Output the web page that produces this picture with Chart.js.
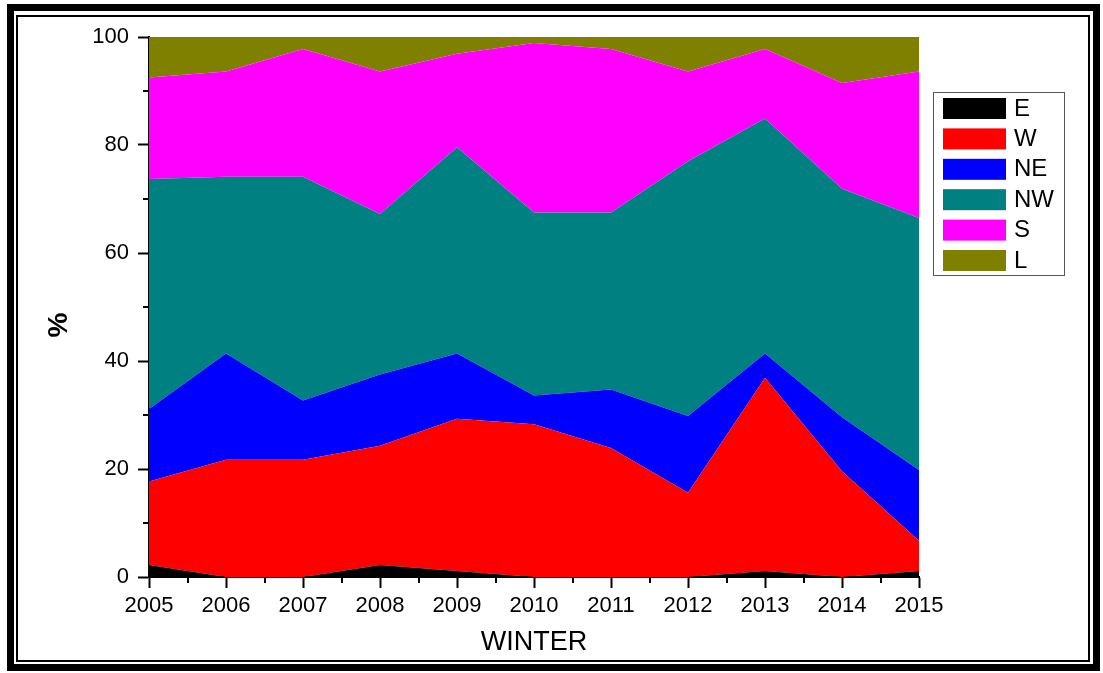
<!DOCTYPE html>
<html>
<head>
<meta charset="utf-8">
<script src="https://cdn.jsdelivr.net/npm/chart.js@4/dist/chart.umd.min.js"></script>
<style>
  html, body { margin: 0; padding: 0; background: #fff; }
  #wrap { position: relative; width: 1103px; height: 673px; overflow: hidden; }
  #outer { position: absolute; left: 7px; top: 4px; width: 1079px; height: 653px; border: 7px solid #000; }
  #inner { position: absolute; left: 16px; top: 15px; width: 1070px; height: 643px; border: 2px solid #000; }
  canvas { position: absolute; left: 0; top: 0; }
</style>
</head>
<body>
<div id="wrap">
  <div id="outer"></div>
  <div id="inner"></div>
  <canvas id="c" width="1103" height="673"></canvas>
</div>
<script>
const years = ['2005','2006','2007','2008','2009','2010','2011','2012','2013','2014','2015'];
const E  = [2.2, 0, 0, 2.2, 1.1, 0, 0, 0, 1.1, 0, 1.1];
const W  = [15.5, 21.7, 21.7, 22.1, 28.2, 28.3, 23.9, 15.6, 35.8, 19.6, 5.6];
const NE = [13.4, 19.7, 11.0, 13.2, 12.1, 5.3, 10.8, 14.2, 4.5, 10.0, 13.1];
const NW = [42.6, 32.7, 41.4, 29.7, 38.2, 33.9, 32.8, 47.2, 43.5, 42.3, 46.7];
const S  = [18.8, 19.5, 23.7, 26.4, 17.3, 31.4, 30.3, 16.6, 12.9, 19.6, 27.1];
const L  = [7.5, 6.4, 2.2, 6.4, 3.1, 1.1, 2.2, 6.4, 2.2, 8.5, 6.4];
const seriesNames = ['E', 'W', 'NE', 'NW', 'S', 'L'];
const seriesData = [E, W, NE, NW, S, L];
const seriesColors = ['#000000', '#ff0000', '#0000ff', '#008080', '#ff00ff', '#808000'];
const yTicks = [0, 20, 40, 60, 80, 100];
const yTitle = '%';
const xTitle = 'WINTER';

const FONT = "'Liberation Sans', Arial, sans-serif";

const datasets = seriesNames.map((n, i) => ({
  label: n,
  data: seriesData[i],
  backgroundColor: seriesColors[i],
  borderColor: seriesColors[i],
  borderWidth: 0,
  pointRadius: 0,
  tension: 0,
  fill: i === 0 ? 'origin' : '-1'
}));

const extras = {
  id: 'extras',
  afterDraw(chart) {
    const ctx = chart.ctx;
    const xs = chart.scales.x, ys = chart.scales.y;
    ctx.save();
    ctx.strokeStyle = '#000';
    ctx.lineWidth = 2;
    // minor ticks
    for (let v = 10; v < 100; v += 20) {
      const y = Math.round(ys.getPixelForValue(v));
      ctx.beginPath(); ctx.moveTo(xs.left, y); ctx.lineTo(xs.left - 6, y); ctx.stroke();
    }
    for (let i = 0; i < years.length - 1; i++) {
      const x = Math.round(xs.getPixelForValue(i + 0.5));
      ctx.beginPath(); ctx.moveTo(x, ys.bottom); ctx.lineTo(x, ys.bottom + 6); ctx.stroke();
    }
    // y title
    ctx.save();
    ctx.translate(59, 325);
    ctx.rotate(-Math.PI / 2);
    ctx.font = 'bold 28px ' + FONT;
    ctx.fillStyle = '#000';
    ctx.textAlign = 'center';
    ctx.textBaseline = 'middle';
    ctx.fillText(yTitle, 0, 0);
    ctx.restore();
    // legend
    const bx = 933, by = 92, bw = 131, bh = 183;
    ctx.lineWidth = 1;
    ctx.strokeStyle = '#555';
    ctx.strokeRect(bx + 0.5, by + 0.5, bw, bh);
    ctx.font = '24px ' + FONT;
    ctx.textBaseline = 'middle';
    ctx.textAlign = 'left';
    seriesNames.forEach((n, i) => {
      const top = 98 + i * 30.4;
      ctx.fillStyle = seriesColors[i];
      ctx.fillRect(943, top, 63, 21);
      ctx.fillStyle = '#000';
      ctx.fillText(n, 1014, top + 11);
    });
    ctx.restore();
  }
};

new Chart(document.getElementById('c'), {
  type: 'line',
  data: { labels: years, datasets },
  options: {
    responsive: false,
    animation: false,
    events: [],
    layout: { padding: { left: 0, top: 37, right: 184, bottom: 0 } },
    plugins: { legend: { display: false }, tooltip: { enabled: false }, title: { display: false } },
    scales: {
      x: {
        type: 'category',
        offset: false,
        afterFit(s) { s.height = 96; },
        grid: { display: true, drawOnChartArea: false, drawTicks: true, tickLength: 11, tickColor: '#000', tickWidth: 2 },
        border: { display: true, color: '#000', width: 2 },
        ticks: { color: '#000', font: { family: FONT, size: 22 }, padding: 5, maxRotation: 0, autoSkip: false },
        title: { display: true, text: xTitle, color: '#000', font: { family: FONT, size: 27 }, padding: { top: 0, bottom: 14 } }
      },
      y: {
        stacked: true,
        min: 0, max: 100,
        afterFit(s) { s.width = 149; },
        afterBuildTicks(s) { s.ticks = yTicks.map(v => ({ value: v })); },
        grid: { display: true, drawOnChartArea: false, drawTicks: true, tickLength: 11, tickColor: '#000', tickWidth: 2 },
        border: { display: true, color: '#000', width: 2 },
        ticks: { color: '#000', font: { family: FONT, size: 22 }, padding: 9 },
        title: { display: false }
      }
    }
  },
  plugins: [extras]
});
</script>
</body>
</html>
